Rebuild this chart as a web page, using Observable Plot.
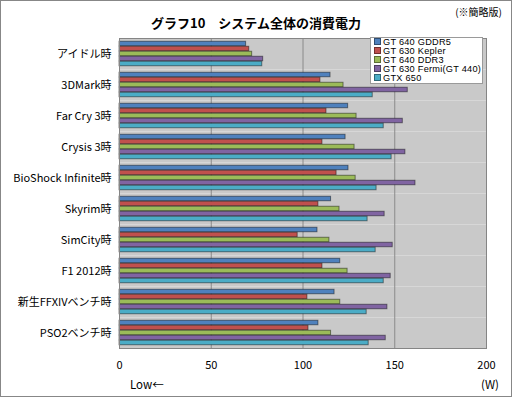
<!DOCTYPE html>
<html><head><meta charset="utf-8">
<script src="https://cdn.jsdelivr.net/npm/d3@7"></script>
<script src="https://cdn.jsdelivr.net/npm/@observablehq/plot@0.6"></script>
<style>
body{margin:0;background:#fff;}
#wrap{position:relative;width:512px;height:397px;overflow:hidden;font-family:"Noto Sans CJK JP","Noto Sans",sans-serif;}
#border{position:absolute;left:0;top:0;width:512px;height:397px;box-sizing:border-box;border:1px solid #878787;pointer-events:none;}
#title{position:absolute;left:0;width:512px;top:13px;text-align:center;font-weight:bold;font-size:13px;color:#000;}
#note{position:absolute;right:10px;top:4px;font-size:10px;color:#000;}
#chart{position:absolute;left:0;top:0;}
#legend{position:absolute;left:370px;top:37px;width:111px;height:45px;background:#fff;border:1px solid #9a9a9a;font-family:"Liberation Sans",Arial,sans-serif;font-size:9.2px;line-height:9px;padding-top:0px;}
#legend div{white-space:nowrap;height:9px;letter-spacing:0.25px;}
#legend span.sw{display:inline-block;width:5px;height:5px;margin:0 2px 0 3px;vertical-align:0px;border:0.5px solid rgba(0,0,0,0.4);}
.foot{position:absolute;top:376px;font-size:11.5px;color:#000;font-family:"Noto Sans CJK JP",sans-serif;}
</style></head>
<body>
<div id="wrap">
  <div id="chart"></div>
  <div id="title">グラフ10　システム全体の消費電力</div>
  <div id="note">(※簡略版)</div>
  <div id="legend"></div>
  <div class="foot" style="left:130px;">Low←</div>
  <div class="foot" style="left:481px;">(W)</div>
  <div id="border"></div>
</div>
<script>
const categories = ["アイドル時","3DMark時","Far Cry 3時","Crysis 3時","BioShock Infinite時","Skyrim時","SimCity時","F1 2012時","新生FFXIVベンチ時","PSO2ベンチ時"];
const series = ["GT 640 GDDR5","GT 630 Kepler","GT 640 DDR3","GT 630 Fermi(GT 440)","GTX 650"];
const colors = ["#4f81bd","#c0504d","#9bbb59","#8064a2","#4bacc6"];
const gt640gddr5 = [69.0,115.0,124.6,123.2,124.8,115.3,107.9,120.3,117.2,108.4];
const gt630kepler = [70.7,109.5,112.8,110.6,118.3,108.4,97.1,110.6,102.4,103.0];
const gt640ddr3  = [72.3,122.1,129.2,128.1,128.7,119.9,114.4,124.3,120.3,115.3];
const gt630fermi = [78.3,157.1,154.4,155.8,161.3,144.5,148.9,147.8,146.0,145.1];
const gtx650     = [77.8,138.0,144.0,148.3,140.1,135.2,139.6,144.0,134.7,135.8];
const xTicks = [0,50,100,150,200];

const seriesValues = [gt640gddr5, gt630kepler, gt640ddr3, gt630fermi, gtx650];
const data = [];
categories.forEach((c,i)=>series.forEach((s,j)=>data.push({category:c, series:s, value:seriesValues[j][i]})));

const chart = Plot.plot({
  width: 512, height: 397,
  marginLeft: 119, marginRight: 26, marginTop: 36, marginBottom: 47,
  style: {fontFamily: '"Noto Sans CJK JP","Noto Sans",sans-serif', fontSize: "11px", color: "#000", background: "transparent"},
  x: {domain: [0,200], ticks: xTicks, tickSize: 0, tickPadding: 13, label: null, tickFormat: d=>d},
  y: {domain: series, paddingInner: 0, paddingOuter: 0.3, axis: null},
  fy: {domain: categories, paddingInner: 0, paddingOuter: 0, axis: "left", tickSize: 0, tickPadding: 8, label: null},
  color: {domain: series, range: colors},
  marks: [
    Plot.frame({fill: "#c9c9c9"}),
    Plot.gridX({ticks: [50,100,150], stroke: "#8a8a8a", strokeOpacity: 1}),
    Plot.barX(data, {x: "value", y: "series", fy: "category", fill: "series", stroke: "black", strokeOpacity: 0.45, strokeWidth: 1, insetTop: 0.25, insetBottom: 0.25}),
    Plot.frame({stroke: "#858585", facet: "super"})
  ]
});
document.getElementById("chart").appendChild(chart);

const lg = document.getElementById("legend");
series.forEach((s,j)=>{
  const d = document.createElement("div");
  d.innerHTML = `<span class="sw" style="background:${colors[j]}"></span>${s}`;
  lg.appendChild(d);
});
</script>
</body></html>
